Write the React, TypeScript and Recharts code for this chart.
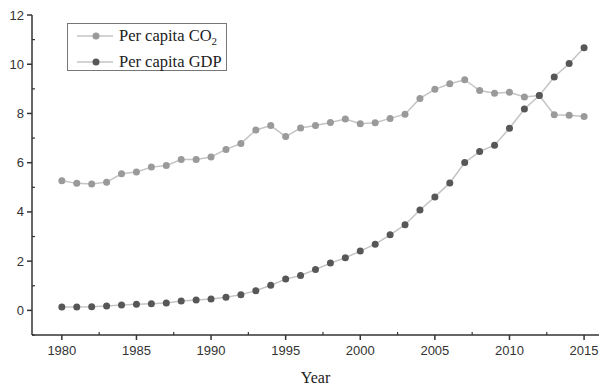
import { LineChart, Line, XAxis, YAxis, Legend } from "recharts";

const years = [
  1980, 1981, 1982, 1983, 1984, 1985, 1986, 1987, 1988, 1989, 1990, 1991,
  1992, 1993, 1994, 1995, 1996, 1997, 1998, 1999, 2000, 2001, 2002, 2003,
  2004, 2005, 2006, 2007, 2008, 2009, 2010, 2011, 2012, 2013, 2014, 2015,
];

const co2 = [
  5.27, 5.16, 5.13, 5.21, 5.55, 5.62, 5.82, 5.89, 6.13, 6.13, 6.23, 6.54,
  6.78, 7.33, 7.51, 7.06, 7.41, 7.51, 7.63, 7.77, 7.58, 7.62, 7.8, 7.97,
  8.61, 8.98, 9.21, 9.37, 8.93, 8.82, 8.86, 8.67, 8.73, 7.95, 7.93, 7.88,
];

const gdp = [
  0.14, 0.14, 0.15, 0.18, 0.22, 0.25, 0.27, 0.3, 0.38, 0.42, 0.46, 0.53,
  0.64, 0.8, 1.02, 1.27, 1.42, 1.66, 1.92, 2.14, 2.41, 2.69, 3.07, 3.48,
  4.08, 4.61, 5.18, 6.01, 6.45, 6.71, 7.4, 8.18, 8.73, 9.48, 10.03, 10.67,
];

const xTicks = [
  1980, 1982.5, 1985, 1987.5, 1990, 1992.5, 1995, 1997.5, 2000, 2002.5, 2005,
  2007.5, 2010, 2012.5, 2015,
];
const yTicks = [-1, 0, 1, 2, 3, 4, 5, 6, 7, 8, 9, 10, 11, 12];

const data = years.map((y, i) => ({ year: y, co2: co2[i], gdp: gdp[i] }));

const AXIS = "#333";
const LINE = "#c4c4c4";
const CO2_DOT = "#9a9a9a";
const GDP_DOT = "#575757";
const SANS = "'Liberation Sans', Arial, sans-serif";
const SERIF = "'Liberation Serif', 'Times New Roman', serif";

function XTick(props: any) {
  const { x, y, payload } = props;
  const v = payload.value;
  const major = v % 5 === 0;
  if (!major) {
    return <line x1={x} x2={x} y1={y - 3} y2={y} stroke={AXIS} strokeWidth={1.2} />;
  }
  return (
    <g>
      <line x1={x} x2={x} y1={y} y2={y + 5} stroke={AXIS} strokeWidth={1.5} />
      <text x={x} y={y + 20} textAnchor="middle" fontSize={13} fontFamily={SANS} fill="#333">
        {v}
      </text>
    </g>
  );
}

function YTick(props: any) {
  const { x, y, payload } = props;
  const v = payload.value;
  const major = v >= 0 && v % 2 === 0;
  if (!major) {
    return <line x1={x} x2={x + 3} y1={y} y2={y} stroke={AXIS} strokeWidth={1.2} />;
  }
  return (
    <g>
      <line x1={x - 5} x2={x} y1={y} y2={y} stroke={AXIS} strokeWidth={1.5} />
      <text x={x - 8} y={y + 4.5} textAnchor="end" fontSize={13} fontFamily={SANS} fill="#333">
        {v}
      </text>
    </g>
  );
}

function LegendBox() {
  const rows = [
    { color: CO2_DOT, label: <>Per capita CO<tspan dy={4} fontSize={11}>2</tspan></> },
    { color: GDP_DOT, label: <>Per capita GDP</> },
  ];
  return (
    <svg width={160} height={49} style={{ display: "block" }}>
      <rect x={0.5} y={0.5} width={159} height={47} fill="#fff" stroke="#777" strokeWidth={1} />
      {rows.map((r, i) => {
        const cy = 13 + i * 26;
        return (
          <g key={i}>
            <line x1={10} x2={46} y1={cy} y2={cy} stroke={LINE} strokeWidth={1.5} />
            <circle cx={29} cy={cy} r={3.5} fill={r.color} />
            <text x={52} y={cy + 5} fontSize={16.5} fontFamily={SERIF} fill="#222">
              {r.label}
            </text>
          </g>
        );
      })}
    </svg>
  );
}

export default function App() {
  return (
    <div style={{ position: "absolute", left: 0, top: 0, background: "#fff" }}>
      <LineChart
        width={599}
        height={387}
        data={data}
        margin={{ top: 15, right: 0, bottom: 0, left: 0 }}
      >
        <XAxis
          dataKey="year"
          type="number"
          domain={[1978, 2016]}
          ticks={xTicks}
          tick={<XTick />}
          tickLine={false}
          tickSize={0}
          tickMargin={0}
          height={52}
          axisLine={{ stroke: AXIS, strokeWidth: 1.5 }}
          interval={0}
          label={{
            value: "Year",
            position: "insideBottom",
            offset: 4,
            fontSize: 16,
            fontFamily: SERIF,
            fill: "#222",
          }}
        />
        <YAxis
          type="number"
          domain={[-1, 12]}
          ticks={yTicks}
          tick={<YTick />}
          tickLine={false}
          tickSize={0}
          tickMargin={0}
          width={32}
          axisLine={{ stroke: AXIS, strokeWidth: 1.5 }}
          interval={0}
        />
        <Legend
          verticalAlign="middle"
          align="center"
          layout="vertical"
          content={() => <LegendBox />}
          wrapperStyle={{ left: 67, top: 23, width: 160, height: 49 }}
        />
        <Line
          dataKey="co2"
          stroke={LINE}
          strokeWidth={1.5}
          dot={{ r: 3.5, fill: CO2_DOT, stroke: "none" }}
          isAnimationActive={false}
        />
        <Line
          dataKey="gdp"
          stroke={LINE}
          strokeWidth={1.5}
          dot={{ r: 3.5, fill: GDP_DOT, stroke: "none" }}
          isAnimationActive={false}
        />
      </LineChart>
    </div>
  );
}
